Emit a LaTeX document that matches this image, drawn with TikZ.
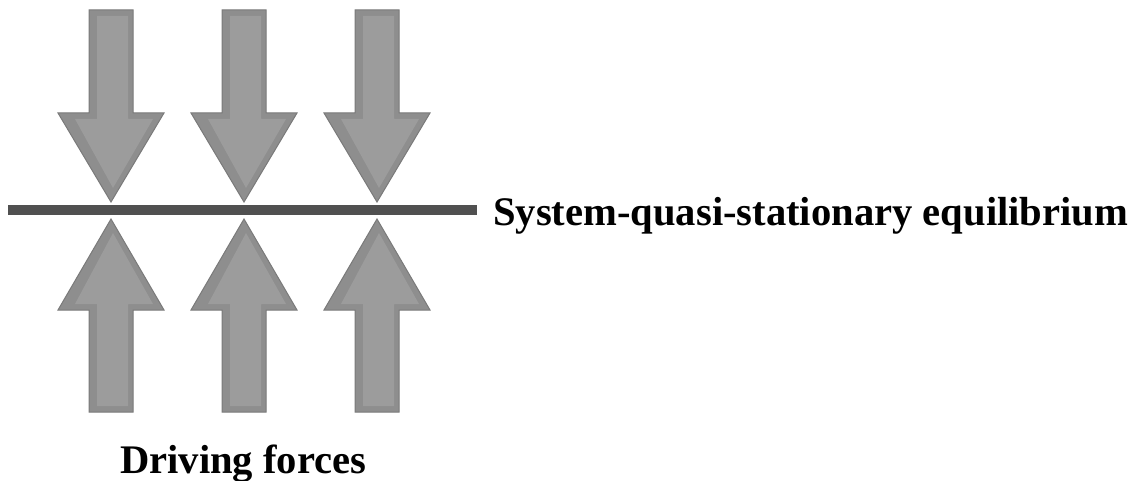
\documentclass[tikz,border=0pt]{standalone}
\usepackage{fontspec}
\setmainfont{Liberation Serif}
\usetikzlibrary{positioning}
\definecolor{eqArrow}{HTML}{8E8E8E}
\definecolor{eqEdge}{HTML}{7A7A7A}
\definecolor{eqLight}{HTML}{9C9C9C}
\definecolor{eqBar}{HTML}{505050}
\tikzset{
  eq arrow/.style={fill=eqArrow, draw=eqEdge, line width=1pt, line join=miter},
  eq bevel/.style={fill=eqLight, draw=none},
  eq bar/.style={draw=eqBar, line width=10pt},
  eq label/.style={font=\fontsize{40.6}{48}\selectfont\bfseries, text=black, inner sep=0pt},
}

\begin{document}
\begin{tikzpicture}[x=1pt,y=-1pt]
  \useasboundingbox (0,0) rectangle (1131,481);
  % forces from above and below
  \foreach \c in {111,244,377}{
    \draw[eq arrow] (\c-22,10) -- (\c+22,10) -- (\c+22,113) -- (\c+53,113) -- (\c,202) -- (\c-53,113) -- (\c-22,113) -- cycle;
    \fill[eq bevel] (\c-14,16) -- (\c+17,16) -- (\c+17,119) -- (\c+42,119) -- (\c+2,188) -- (\c-36,119) -- (\c-14,119) -- cycle;
    \draw[eq arrow] (\c,219) -- (\c+53,310) -- (\c+22,310) -- (\c+22,412) -- (\c-22,412) -- (\c-22,310) -- (\c-53,310) -- cycle;
    \fill[eq bevel] (\c+2,233) -- (\c+42,304) -- (\c+17,304) -- (\c+17,406) -- (\c-14,406) -- (\c-14,304) -- (\c-36,304) -- cycle;
  }
  % equilibrium line
  \coordinate (barL) at (8,210);
  \coordinate (barR) at (477,210);
  \draw[eq bar] (barL) -- (barR);
  \node[eq label, anchor=base west] (sys) at (493,225) {System-quasi-stationary equilibrium};
  \node[eq label, anchor=base west] (drv) at (120,473) {Driving forces};
\end{tikzpicture}
\end{document}
